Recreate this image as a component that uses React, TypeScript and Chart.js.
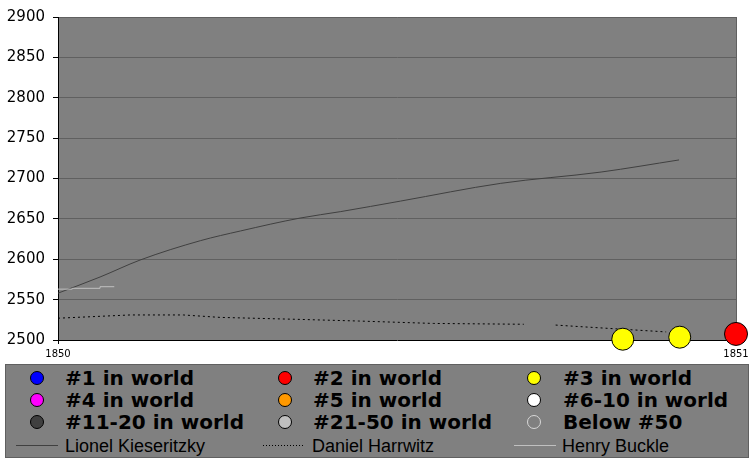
import React, { useEffect, useRef } from "react";
import { Chart, registerables } from "chart.js";

Chart.register(...registerables);

// ---- data ----
const kieseritzkyYears = [0, 0.062, 0.121, 0.21, 0.269, 0.357, 0.417, 0.505, 0.653, 0.801, 0.916];
const kieseritzkyRatings = [2558, 2578, 2599, 2623, 2635, 2651, 2659, 2672, 2694, 2708, 2723];

const harrwitzYears = [0, 0.066, 0.106, 0.185, 0.239, 0.357, 0.443, 0.554, 0.687, 0.71, 0.734, 0.771, 0.849, 0.897];
const harrwitzRatings = [2527, 2529.5, 2531, 2531, 2528, 2525.5, 2523.5, 2520.5, 2519.5, null, 2518.5, 2516.5, 2512.5, 2510];

const buckleYears = [0, 0.021, 0.062, 0.083];
const buckleRatings = [2563, 2564, 2566, 2566];

const rank3Years = [0.833, 0.917];
const rank3Ratings = [2501, 2503.5];
const rank2Years = [1.0];
const rank2Ratings = [2507.5];

const baseYear = 1850;
const yMin = 2500;
const yMax = 2900;
const yStep = 50;
const xTicks = [1850, 1851];

const rankLabels = [
  "#1 in world", "#2 in world", "#3 in world",
  "#4 in world", "#5 in world", "#6-10 in world",
  "#11-20 in world", "#21-50 in world", "Below #50",
];
const rankColors = [
  "#0000ff", "#ff0000", "#ffff00",
  "#ff00ff", "#ff9900", "#ffffff",
  "#404040", "#c0c0c0", "#808080",
];
const playerNames = ["Lionel Kieseritzky", "Daniel Harrwitz", "Henry Buckle"];

const toPoints = (xs: number[], ys: (number | null)[]) =>
  xs.map((x, i) => ({ x: baseYear + x, y: ys[i] }));

const plotBg = {
  id: "plotBg",
  beforeDraw(chart: any) {
    const { ctx, chartArea } = chart;
    ctx.save();
    ctx.fillStyle = "#808080";
    ctx.fillRect(chartArea.left, chartArea.top, chartArea.right - chartArea.left, chartArea.bottom - chartArea.top);
    ctx.strokeStyle = "#606060";
    ctx.lineWidth = 1;
    ctx.beginPath();
    ctx.moveTo(Math.round(chartArea.right) + 0.5, chartArea.top);
    ctx.lineTo(Math.round(chartArea.right) + 0.5, chartArea.bottom);
    ctx.stroke();
    ctx.restore();
  },
};

export default function App() {
  const ref = useRef<HTMLCanvasElement>(null);

  useEffect(() => {
    document.body.style.margin = "0";
    const chart = new Chart(ref.current!, {
      type: "scatter",
      data: {
        datasets: [
          {
            label: rankLabels[1],
            data: toPoints(rank2Years, rank2Ratings),
            pointRadius: 11.5,
            pointBackgroundColor: rankColors[1],
            pointBorderColor: "#000",
            pointBorderWidth: 1,
            clip: false,
          } as any,
          {
            label: rankLabels[2],
            data: toPoints(rank3Years, rank3Ratings),
            pointRadius: 11,
            pointBackgroundColor: rankColors[2],
            pointBorderColor: "#000",
            pointBorderWidth: 1,
            clip: false,
          },
          {
            label: playerNames[2],
            data: toPoints(buckleYears, buckleRatings),
            showLine: true,
            stepped: true,
            borderColor: "#c0c0c0",
            borderWidth: 1,
            pointRadius: 0,
          },
          {
            label: playerNames[1],
            data: toPoints(harrwitzYears, harrwitzRatings),
            showLine: true,
            spanGaps: false,
            borderColor: "#000000",
            borderWidth: 1,
            borderDash: [2, 3],
            pointRadius: 0,
          },
          {
            label: playerNames[0],
            data: toPoints(kieseritzkyYears, kieseritzkyRatings),
            showLine: true,
            cubicInterpolationMode: "monotone",
            borderColor: "#404040",
            borderWidth: 1,
            pointRadius: 0,
          },
        ],
      },
      options: {
        animation: false,
        responsive: false,
        devicePixelRatio: 1,
        layout: { padding: { top: 17, right: 20, left: 0, bottom: 0 } },
        plugins: { legend: { display: false }, tooltip: { enabled: false } },
        scales: {
          x: {
            type: "linear",
            min: xTicks[0],
            max: xTicks[xTicks.length - 1],
            afterBuildTicks: (s: any) => {
              s.ticks = xTicks.map((v) => ({ value: v }));
            },
            afterFit: (s: any) => {
              s.height = 22;
            },
            ticks: {
              callback: (v: any) => String(v),
              font: { family: "DejaVu Sans", size: 10 },
              color: "#000",
              padding: 4,
              maxRotation: 0,
            },
            grid: { drawOnChartArea: false, tickLength: 4, tickColor: "#000" },
            border: { color: "#000", width: 1 },
          },
          y: {
            min: yMin,
            max: yMax,
            afterFit: (s: any) => {
              s.width = 58;
            },
            ticks: {
              stepSize: yStep,
              callback: (v: any) => String(v),
              font: { family: "DejaVu Sans", size: 15 },
              color: "#000",
              padding: 8,
            },
            grid: {
              color: (c: any) => (c.tick && c.tick.value === yMin ? "rgba(0,0,0,0)" : "#606060"),
              tickLength: 5,
              tickColor: "#000",
            },
            border: { color: "#000", width: 1 },
          },
        },
      },
      plugins: [plotBg],
    });
    return () => chart.destroy();
  }, []);

  const colX = [37, 285, 534];
  const textX = [65, 313, 563];
  const rowY = [378, 400, 422];
  const lineRowY = 446;

  return (
    <div style={{ position: "fixed", left: 0, top: 0, width: 756, height: 464, background: "#fff", overflow: "hidden" }}>
      <canvas ref={ref} width={756} height={362} style={{ position: "absolute", left: 0, top: 0, width: 756, height: 362 }} />
      <div
        style={{
          position: "absolute",
          left: 5,
          top: 364,
          width: 744,
          height: 94,
          boxSizing: "border-box",
          background: "#808080",
          border: "1px solid #606060",
        }}
      />
      {rankLabels.map((label, i) => {
        const col = i % 3;
        const row = Math.floor(i / 3);
        return (
          <React.Fragment key={label}>
            <div
              style={{
                position: "absolute",
                left: colX[col] - 7,
                top: rowY[row] - 7,
                width: 14,
                height: 14,
                boxSizing: "border-box",
                borderRadius: "50%",
                background: rankColors[i],
                border: i === 8 ? "1px solid #d8d8d8" : "1px solid #000",
              }}
            />
            <div
              style={{
                position: "absolute",
                left: textX[col],
                top: rowY[row] - 12,
                height: 24,
                lineHeight: "24px",
                font: 'bold 20px "DejaVu Sans"',
                color: "#000",
                whiteSpace: "nowrap",
              }}
            >
              {label}
            </div>
          </React.Fragment>
        );
      })}
      {playerNames.map((name, i) => {
        const lineLeft = [16, 263, 514][i];
        const lineStyle: React.CSSProperties =
          i === 1
            ? { background: "repeating-linear-gradient(to right, #000 0 1px, transparent 1px 3px)" }
            : { background: i === 0 ? "#404040" : "#c0c0c0" };
        return (
          <React.Fragment key={name}>
            <div style={{ position: "absolute", left: lineLeft, top: lineRowY - 1, width: 42, height: 1, ...lineStyle }} />
            <div
              style={{
                position: "absolute",
                left: textX[i] - (i === 0 ? 0 : 1),
                top: lineRowY - 10,
                height: 22,
                lineHeight: "22px",
                font: '18px "Liberation Sans"',
                color: "#000",
                whiteSpace: "nowrap",
              }}
            >
              {name}
            </div>
          </React.Fragment>
        );
      })}
    </div>
  );
}
